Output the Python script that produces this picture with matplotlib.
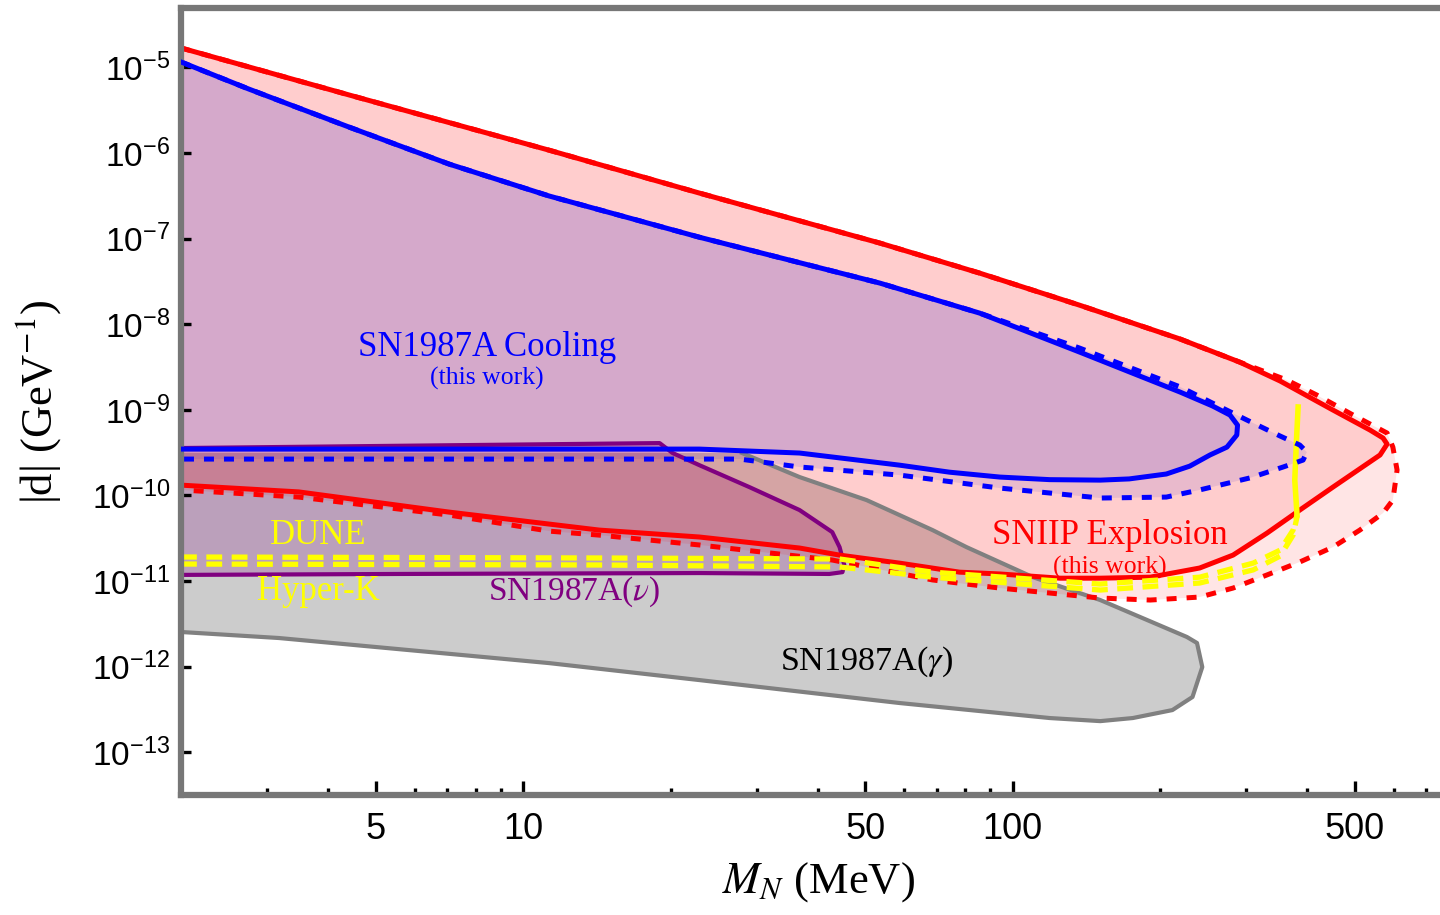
"""Dipole-portal HNL bounds: |d| vs M_N, SN1987A cooling / SNIIP explosion.

Contours are read off the reference figure by eye (M_N in MeV, |d| in GeV^-1).
"""

import matplotlib
matplotlib.use("Agg")
import matplotlib.pyplot as plt
from matplotlib.ticker import (FixedLocator, FixedFormatter, LogLocator,
                               NullLocator, NullFormatter)

# SNIIP explosion (this work), solid contour
sniip_m = [2.0, 4.41, 11.3, 22.9, 53.5, 85.6, 137, 220, 291, 352, 451,
           537, 571, 582, 563, 451, 386, 331, 282, 241, 191, 151, 125, 94.1,
           77.9, 58.7, 44.3, 36.7, 22.9, 14.3, 11.3, 7.06, 3.48, 2.0]
sniip_d = [1.69e-5, 4.77e-6, 1.08e-6, 3.41e-7, 8.89e-8, 3.96e-8,
           1.67e-8, 6.71e-9, 3.61e-9, 2.17e-9, 9.96e-10, 5.81e-10, 4.69e-10,
           3.98e-10, 2.97e-10, 1.25e-10, 6.75e-11, 3.64e-11, 2.01e-11,
           1.42e-11, 1.11e-11, 1.08e-11, 1.08e-11, 1.21e-11, 1.27e-11,
           1.62e-11, 2.01e-11, 2.43e-11, 3.27e-11, 3.94e-11, 4.63e-11,
           6.39e-11, 1.10e-10, 1.32e-10]

# SNIIP explosion, dashed contour
sniip_ext_m = [2.0, 4.41, 11.3, 22.9, 53.5, 85.6, 137, 220, 291, 363,
               418, 496, 582, 598, 610, 598, 571, 512, 451, 386, 331, 282,
               241, 191, 151, 94.1, 68.6, 42.8, 22.9, 14.3, 11.3, 7.06, 3.48,
               2.0]
sniip_ext_d = [1.69e-5, 4.77e-6, 1.08e-6, 3.41e-7, 8.89e-8, 3.96e-8,
               1.67e-8, 6.71e-9, 3.61e-9, 2.23e-9, 1.49e-9, 8.69e-10,
               5.36e-10, 3.67e-10, 1.98e-10, 8.83e-11, 6.22e-11, 3.94e-11,
               2.49e-11, 1.67e-11, 1.18e-11, 8.28e-12, 6.50e-12, 6.00e-12,
               6.33e-12, 8.28e-12, 1.03e-11, 1.76e-11, 2.64e-11, 3.44e-11,
               3.83e-11, 5.90e-11, 9.57e-11, 1.16e-10]

# SN1987A cooling (this work), solid contour
cool_m = [2.0, 2.75, 4.41, 7.06, 11.3, 22.9, 53.5, 85.6, 137, 220, 256,
          278, 288, 287, 274, 253, 230, 206, 173, 151, 119, 94.1, 74.3, 58.7,
          36.7, 22.9, 2.0]
cool_d = [1.16e-5, 5.60e-6, 2.01e-6, 7.43e-7, 3.15e-7, 1.04e-7, 3.03e-8,
          1.35e-8, 4.73e-9, 1.61e-9, 1.11e-9, 8.69e-10, 6.63e-10,
          5.08e-10, 3.67e-10, 2.97e-10, 2.20e-10, 1.78e-10, 1.56e-10,
          1.51e-10, 1.53e-10, 1.64e-10, 1.87e-10, 2.26e-10, 3.13e-10,
          3.48e-10, 3.48e-10]

# SN1987A cooling, dashed contour
cool_ext_m = [2.0, 2.75, 4.41, 7.06, 11.3, 22.9, 53.5, 85.6, 137, 220,
              256, 301, 352, 386, 399, 392, 357, 305, 241, 206, 151, 94.1,
              58.7, 36.7, 27.7, 2.0]
cool_ext_d = [1.16e-5, 5.60e-6, 2.01e-6, 7.43e-7, 3.15e-7, 1.04e-7, 3.03e-8,
              1.35e-8, 5.27e-9, 1.85e-9, 1.20e-9, 7.60e-10,
              4.94e-10, 3.88e-10, 3.21e-10, 2.59e-10, 2.15e-10, 1.60e-10,
              1.16e-10, 9.57e-11, 9.33e-11, 1.22e-10, 1.73e-10, 2.15e-10,
              2.66e-10, 2.66e-10]

# SN1987A (nu)
nu_m = [2.0, 19.0, 20.2, 22.9, 29.0, 36.7, 42.8, 44.3, 45.3, 44.9, 42.2,
        22.9, 5.58, 2.0]
nu_d = [3.58e-10, 4.09e-10, 3.13e-10, 2.26e-10, 1.25e-10, 6.75e-11,
        3.73e-11, 2.49e-11, 1.54e-11, 1.27e-11, 1.21e-11, 1.24e-11,
        1.21e-11, 1.18e-11]

# SN1987A (gamma); first point sits hidden under the other contours
gamma_m = [2.0, 28.0, 36.7, 50.3, 68.6, 80.5, 110, 151, 227, 238, 244, 233,
           212, 176, 151, 119, 94.1, 58.7, 22.9, 11.3, 3.17, 2.0]
gamma_d = [3.13e-10, 3.13e-10, 1.64e-10, 8.83e-11, 3.94e-11, 2.49e-11,
           1.11e-11, 6.00e-12, 2.22e-12, 1.89e-12, 9.89e-13, 4.42e-13,
           3.11e-13, 2.51e-13, 2.31e-13, 2.51e-13, 2.87e-13, 3.76e-13,
           6.97e-13, 1.10e-12, 2.16e-12, 2.54e-12]

# DUNE / Hyper-K sensitivities
dune_m = [2.0, 14.3, 44.3, 68.6, 151, 241, 310, 352, 374, 381]
dune_d = [1.91e-11, 1.86e-11, 1.81e-11, 1.27e-11, 9.23e-12, 1.11e-11,
          1.62e-11, 2.30e-11, 3.94e-11, 5.90e-11]
hyperk_m = [2.0, 14.3, 44.3, 68.6, 151, 241, 310, 352, 374, 381]
hyperk_d = [1.58e-11, 1.54e-11, 1.46e-11, 1.11e-11, 7.85e-12, 9.48e-12,
            1.35e-11, 1.96e-11, 3.44e-11, 5.60e-11]
# common high-mass edge of both sensitivity curves
edge_m = [381, 377, 380, 383]
edge_d = [5.90e-11, 1.51e-10, 4.43e-10, 1.08e-9]

x_major = [5, 10, 50, 100, 500]
x_major_labels = ['5', '10', '50', '100', '500']
x_minor = [2, 3, 4, 6, 7, 8, 9, 20, 30, 40, 60, 70, 80, 90,
           200, 300, 400, 600, 700]


def main():
    plt.rcParams['font.family'] = ['Liberation Sans', 'DejaVu Sans']
    plt.rcParams['mathtext.fontset'] = 'stix'
    serif = ['Liberation Serif', 'DejaVu Serif']

    fig = plt.figure(figsize=(14.4, 9.15), dpi=100)
    ax = fig.add_axes([0.1257, 0.1311, 0.875, 0.8601])
    ax.set_xscale('log')
    ax.set_yscale('log')
    ax.set_xlim(2, 750)
    ax.set_ylim(10 ** -13.5, 10 ** -4.306)

    # filled regions
    ax.fill(gamma_m, gamma_d, facecolor='#cccccc', edgecolor='none', zorder=1)
    ax.fill(nu_m, nu_d, facecolor='#800080', alpha=0.21, edgecolor='none', zorder=1.1)
    ax.fill(sniip_ext_m, sniip_ext_d, facecolor='red', alpha=0.1, edgecolor='none', zorder=1.2)
    ax.fill(sniip_m, sniip_d, facecolor='red', alpha=0.1, edgecolor='none', zorder=1.2)
    ax.fill(cool_ext_m, cool_ext_d, facecolor='#0c00c2', alpha=0.09, edgecolor='none', zorder=1.3)
    ax.fill(cool_m, cool_d, facecolor='#0c00c2', alpha=0.09, edgecolor='none', zorder=1.3)

    # outlines
    ax.plot(gamma_m[1:], gamma_d[1:], color='#808080', lw=3, zorder=2)
    ax.plot(nu_m, nu_d, color='#800080', lw=3, zorder=2.1)
    ax.plot(sniip_ext_m, sniip_ext_d, color='red', lw=3.6, dashes=(2, 2), zorder=2.2)
    ax.plot(sniip_m, sniip_d, color='red', lw=3.6, zorder=2.3)
    ax.plot(dune_m, dune_d, color='yellow', lw=3.8, dashes=(3, 1.8), zorder=2.4)
    ax.plot(hyperk_m, hyperk_d, color='yellow', lw=3.8, dashes=(3, 1.8), zorder=2.4)
    ax.plot(edge_m, edge_d, color='yellow', lw=4, zorder=2.4)
    ax.plot(cool_ext_m, cool_ext_d, color='blue', lw=3.6, dashes=(2, 2), zorder=2.5)
    ax.plot(cool_m, cool_d, color='blue', lw=3.6, zorder=2.6)

    # region labels
    big, small = 25, 18.5
    ax.text(8.44, 5.42e-9, 'SN1987A Cooling', color='blue', fontsize=big,
            family=serif, ha='center', va='center')
    ax.text(8.44, 2.35e-9, '(this work)', color='blue', fontsize=small,
            family=serif, ha='center', va='center')
    ax.text(158, 3.44e-11, 'SNIIP Explosion', color='red', fontsize=big,
            family=serif, ha='center', va='center')
    ax.text(158, 1.46e-11, '(this work)', color='red', fontsize=small,
            family=serif, ha='center', va='center')
    ax.text(3.81, 3.44e-11, 'DUNE', color='yellow', fontsize=big,
            family=serif, ha='center', va='center')
    ax.text(3.81, 7.64e-12, 'Hyper-K', color='yellow', fontsize=big,
            family=serif, ha='center', va='center')
    ax.text(12.7, 7.44e-12, r'SN1987A($\nu$)', color='#800080', fontsize=24,
            family=serif, ha='center', va='center')
    ax.text(50.3, 1.13e-12, r'SN1987A($\gamma$)', color='black', fontsize=24.5,
            family=serif, ha='center', va='center')

    # axes, ticks, frame
    ax.xaxis.set_major_locator(FixedLocator(x_major))
    ax.xaxis.set_major_formatter(FixedFormatter(x_major_labels))
    ax.xaxis.set_minor_locator(FixedLocator(x_minor))
    ax.xaxis.set_minor_formatter(NullFormatter())
    ax.yaxis.set_major_locator(LogLocator(base=10, numticks=20))
    ax.yaxis.set_minor_locator(NullLocator())

    ax.tick_params(axis='x', which='major', direction='in', length=10,
                   width=2.4, color='black', labelsize=26, pad=12)
    ax.tick_params(axis='x', which='minor', direction='in', length=5,
                   width=2.4, color='black')
    ax.tick_params(axis='y', which='major', direction='in', length=7,
                   width=2.4, color='black', labelsize=24, pad=8)

    for side in ['left', 'top', 'bottom']:
        ax.spines[side].set_color('#777777')
        ax.spines[side].set_linewidth(4.5)
    ax.spines['right'].set_visible(False)

    ax.set_xlabel(r'$M_N$ (MeV)', fontsize=32, family=serif)
    ax.xaxis.set_label_coords(0.506, -0.083)
    ax.set_ylabel(r'|d| (GeV$^{-1}$)', fontsize=32, family=serif)
    ax.yaxis.set_label_coords(-0.094, 0.5)

    fig.savefig('out.png', dpi=100)
    plt.close(fig)


if __name__ == "__main__":
    main()
